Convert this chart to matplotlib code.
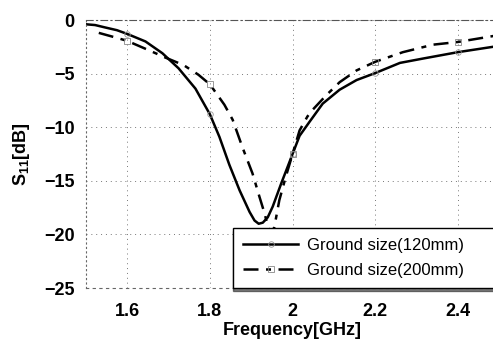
import matplotlib
matplotlib.use("Agg")
import matplotlib.pyplot as plt

plt.rcParams['font.family'] = ['Liberation Sans', 'DejaVu Sans']
plt.rcParams['mathtext.fontset'] = 'custom'
plt.rcParams['mathtext.rm'] = 'Liberation Sans:bold'
plt.rcParams['mathtext.bf'] = 'Liberation Sans:bold'

# S11 curves (GHz, dB)
freq_120 = [1.50, 1.522, 1.547, 1.575, 1.60, 1.644, 1.685, 1.724, 1.765, 1.80,
            1.823, 1.847, 1.872, 1.896, 1.908, 1.918, 1.928, 1.94, 1.952, 1.973,
            2.00, 2.017, 2.041, 2.073, 2.114, 2.155, 2.20, 2.26, 2.315, 2.40,
            2.485, 2.50]
s11_120 = [-0.4, -0.47, -0.7, -0.95, -1.3, -2.0, -3.1, -4.5, -6.4, -8.8,
           -10.9, -13.5, -15.9, -17.9, -18.7, -19.0, -18.9, -18.4, -17.4, -15.2,
           -12.5, -10.8, -9.5, -7.8, -6.5, -5.6, -4.95, -4.0, -3.6, -3.0,
           -2.5, -2.45]

freq_200 = [1.531, 1.578, 1.60, 1.651, 1.692, 1.736, 1.772, 1.80, 1.835, 1.855,
            1.879, 1.903, 1.92, 1.932, 1.94, 1.948, 1.956, 1.968, 1.983, 2.00,
            2.017, 2.036, 2.048, 2.082, 2.114, 2.155, 2.20, 2.267, 2.34, 2.40,
            2.485, 2.50]
s11_200 = [-1.2, -1.7, -1.95, -2.8, -3.5, -4.2, -5.1, -6.0, -7.9, -9.3,
           -11.9, -14.3, -16.5, -18.0, -19.2, -20.0, -19.3, -16.8, -14.7, -12.5,
           -10.3, -9.0, -8.4, -7.0, -5.8, -4.7, -3.9, -3.0, -2.3, -2.05,
           -1.5, -1.45]

mark_freqs = [1.6, 1.8, 2.0, 2.2, 2.4]
labels = ['Ground size(120mm)', 'Ground size(200mm)']

fig = plt.figure(figsize=(4.93, 3.45), dpi=100)
ax = fig.add_axes([0.1744, 0.165, 0.838, 0.777])

mark_120 = [freq_120.index(m) for m in mark_freqs]
mark_200 = [freq_200.index(m) for m in mark_freqs]

ax.plot(freq_120, s11_120, color='black', lw=1.8, label=labels[0],
        marker='o', markevery=mark_120, ms=4, mfc='none', mec='#999999', mew=0.6)
ax.plot(freq_200, s11_200, color='black', lw=1.8, ls=(0, (6, 3, 2, 3)), label=labels[1],
        marker='s', markevery=mark_200, ms=5, mfc='none', mec='#888888', mew=0.6)

ax.set_xlim(1.5, 2.5)
ax.set_ylim(-25, 0)
ax.set_xticks([1.6, 1.8, 2.0, 2.2, 2.4])
ax.set_xticklabels(['1.6', '1.8', '2', '2.2', '2.4'])
ax.set_yticks([0, -5, -10, -15, -20, -25])
ax.tick_params(axis='both', length=0, labelsize=13)
ax.tick_params(axis='x', pad=11)
ax.tick_params(axis='y', pad=8)
for t in ax.get_xticklabels() + ax.get_yticklabels():
    t.set_fontweight('bold')

ax.grid(True, ls=(0, (1, 4)), color='#777777', lw=0.7)
ax.spines['right'].set_visible(False)
ax.spines['left'].set_linestyle((0, (1, 3)))
ax.spines['left'].set_color('#666666')
ax.spines['top'].set_linestyle((0, (6, 3, 1, 3)))
ax.spines['top'].set_color('#555555')
ax.spines['bottom'].set_linestyle((0, (2, 4)))
ax.spines['bottom'].set_color('#666666')

ax.set_xlabel('Frequency[GHz]', fontsize=13, fontweight='bold', labelpad=1)
ax.set_ylabel(r'S$_{\rm 11}$[dB]', fontsize=13, fontweight='bold', labelpad=9)

# legend box runs from x~233 px to the right edge of the picture
leg = ax.legend(loc='lower left', bbox_to_anchor=(0.356, 0.0, 0.66, 0.231), mode='expand',
                borderaxespad=0, fontsize=12, frameon=True, fancybox=False,
                shadow={'ox': 0, 'oy': -2, 'color': 'black'},
                handlelength=3.3, handletextpad=0.55, borderpad=0.6, labelspacing=0.6)
leg.get_frame().set_edgecolor('black')
leg.get_frame().set_linewidth(1.0)

fig.savefig('out.png', dpi=100)
